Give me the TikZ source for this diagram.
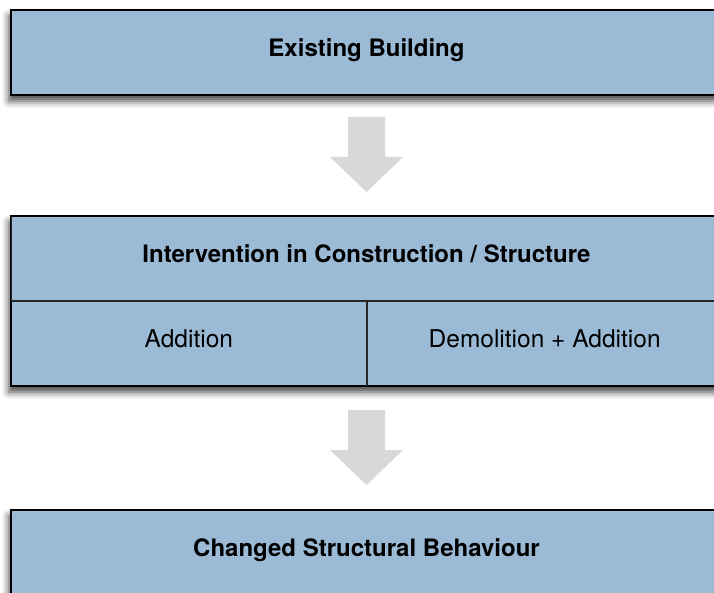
\documentclass[tikz,border=0pt]{standalone}
\usepackage{fontspec}
\setmainfont{TeX Gyre Heros}
\usepackage{tikz}
\usetikzlibrary{positioning,calc,shadows.blur}
\definecolor{boxblue}{HTML}{9BBAD6}
\definecolor{arrowgray}{HTML}{D8D8D8}

\tikzset{
  panel/.style={draw=black, line width=1.2pt, fill=boxblue, inner sep=0pt,
    minimum width=711pt, minimum height=85pt, text height=14pt, text depth=6pt,
    font=\fontsize{24}{28}\selectfont\bfseries,
    blur shadow={shadow xshift=-2pt, shadow yshift=-6pt, shadow blur radius=7pt, shadow opacity=75}},
  cell/.style={draw=black!85, line width=0.9pt, inner sep=0pt, minimum height=85pt,
    text height=14pt, text depth=6pt, font=\fontsize{24.5}{28}\selectfont},
  downarrow/.pic={
    \fill[arrowgray] (-18.5,37.5) -- (18.5,37.5) -- (18.5,-2.5) -- (36.5,-2.5)
      -- (0,-37.5) -- (-36.5,-2.5) -- (-18.5,-2.5) -- cycle;
  }
}

\begin{document}
\begin{tikzpicture}[x=1pt, y=1pt]
\path[use as bounding box, clip] (0,0) rectangle (714,-593);

% Boxes
\node[panel] (existing) at (366.5,-52.5) {Existing Building};
\node[panel, minimum height=170pt, text height=0pt, text depth=0pt] (intervention) at (366.5,-301) {};
\node[panel] (changed) at (366.5,-552.5) {Changed Structural Behaviour};

% Inner rows of the intervention box
\node[cell, font=\fontsize{24}{28}\selectfont\bfseries, minimum width=711pt, anchor=north]
  (interventiontitle) at (intervention.north) {Intervention in Construction / Structure};
\node[cell, minimum width=356pt, anchor=south west] (addition) at (intervention.south west) {Addition};
\node[cell, minimum width=355pt, anchor=south east] (demolition) at (intervention.south east) {Demolition + Addition};
\draw[line width=1.2pt] (intervention.north west) rectangle (intervention.south east);

% Block arrows between the boxes
\pic at ($(existing.south)!0.5!(intervention.north)+(0,1)$) {downarrow};
\pic at ($(intervention.south)!0.5!(changed.north)+(0,0.5)$) {downarrow};

\end{tikzpicture}
\end{document}
